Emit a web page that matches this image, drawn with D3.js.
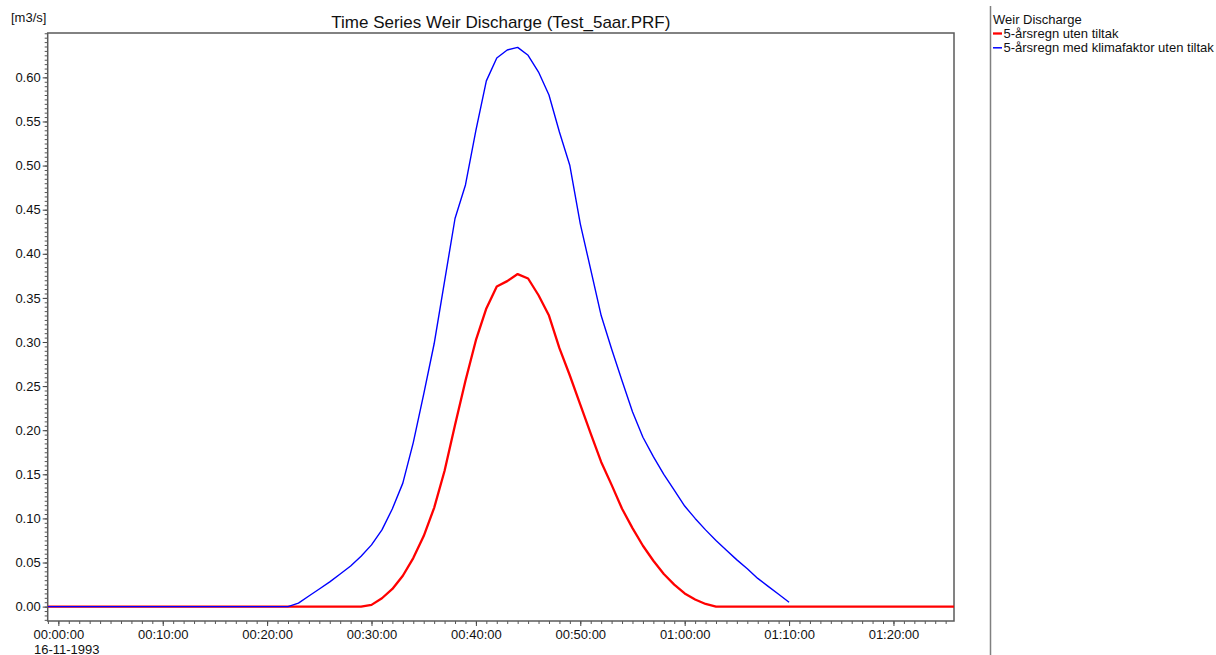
<!DOCTYPE html>
<html>
<head>
<meta charset="utf-8">
<script src="https://cdn.jsdelivr.net/npm/d3@7/dist/d3.min.js"></script>
<style>
  html, body { margin: 0; padding: 0; background: #fff; }
  svg { display: block; font-family: "Liberation Sans", Arial, sans-serif; }
</style>
</head>
<body>
<svg id="chart" width="1216" height="655"></svg>
<script>
// ---- data (minutes since 16-11-1993 00:00:00, discharge m3/s) ----
const chartTitle = "Time Series Weir Discharge (Test_5aar.PRF)";
const unitLabel = "[m3/s]";
const dateLabel = "16-11-1993";
const legendTitle = "Weir Discharge";
const seriesNames = ["5-årsregn uten tiltak", "5-årsregn med klimafaktor uten tiltak"];
const seriesColors = ["#ff0000", "#0000ff"];

const redTimes = [-1, 29, 30, 31, 32, 33, 34, 35, 36, 37, 38, 39, 40, 41, 42, 43, 44, 45, 46, 47, 48, 49,
  50, 51, 52, 53, 54, 55, 56, 57, 58, 59, 60, 61, 62, 63, 85.8];
const redValues = [0, 0, 0.002, 0.0095, 0.020, 0.035, 0.055, 0.080, 0.112, 0.154, 0.206, 0.256, 0.302,
  0.338, 0.363, 0.369, 0.377, 0.372, 0.353, 0.330, 0.293, 0.262, 0.229, 0.196, 0.164, 0.138, 0.111,
  0.089, 0.069, 0.052, 0.037, 0.025, 0.015, 0.008, 0.003, 0, 0];

const blueTimes = [-1, 22, 23, 24, 25, 26, 27, 28, 29, 30, 31, 32, 33, 34, 35, 36, 37, 38, 39, 40, 41,
  42, 43, 44, 45, 46, 47, 48, 49, 50, 51, 52, 53, 54, 55, 56, 57, 58, 59, 60, 61, 62, 63, 64, 65,
  66, 67, 68, 69, 70];
const blueValues = [0, 0, 0.004, 0.012, 0.020, 0.028, 0.037, 0.046, 0.057, 0.070, 0.087, 0.111, 0.140,
  0.186, 0.241, 0.298, 0.369, 0.440, 0.478, 0.540, 0.596, 0.622, 0.631, 0.634, 0.625, 0.606, 0.580,
  0.538, 0.500, 0.434, 0.382, 0.330, 0.292, 0.256, 0.221, 0.192, 0.170, 0.150, 0.132, 0.114, 0.100,
  0.087, 0.075, 0.064, 0.053, 0.043, 0.032, 0.023, 0.014, 0.005];

const yTicks = [0, 0.05, 0.10, 0.15, 0.20, 0.25, 0.30, 0.35, 0.40, 0.45, 0.50, 0.55, 0.60];
const xTicks = [0, 10, 20, 30, 40, 50, 60, 70, 80];
const xDomain = [-1.02, 85.8];
const yDomain = [-0.0163, 0.6503];

// ---- layout ----
const svg = d3.select("#chart");
const plot = { left: 47.7, right: 954, top: 33, bottom: 621 };

const x = d3.scaleLinear().domain(xDomain).range([plot.left, plot.right]);
const y = d3.scaleLinear().domain(yDomain).range([plot.bottom, plot.top]);

const fmtTime = m => {
  const h = Math.floor(m / 60), mm = m % 60;
  return String(h).padStart(2, "0") + ":" + String(mm).padStart(2, "0") + ":00";
};

// minor ticks
const yMinor = d3.range(-15, 651, 5).map(d => d / 1000).filter(d => d >= yDomain[0] && d <= yDomain[1]);
const xMinor = d3.range(-1, 86, 1).filter(d => d >= xDomain[0] && d <= xDomain[1]);

svg.append("g")
  .attr("transform", `translate(${plot.left},0)`)
  .call(d3.axisLeft(y).tickValues(yMinor).tickSize(3).tickFormat(""))
  .call(g => g.select(".domain").remove())
  .call(g => g.selectAll("line").attr("stroke", "#555"));

svg.append("g")
  .attr("transform", `translate(0,${plot.bottom})`)
  .call(d3.axisBottom(x).tickValues(xMinor).tickSize(3).tickFormat(""))
  .call(g => g.select(".domain").remove())
  .call(g => g.selectAll("line").attr("stroke", "#555"));

// major axes
const yAxis = svg.append("g")
  .attr("transform", `translate(${plot.left},0)`)
  .call(d3.axisLeft(y).tickValues(yTicks).tickSize(5).tickPadding(2).tickFormat(d3.format(".2f")))
  .call(g => g.select(".domain").remove());
yAxis.selectAll("line").attr("stroke", "#444");
yAxis.selectAll("text").attr("font-size", 13).attr("fill", "#111")
  .attr("font-family", "Liberation Sans, Arial, sans-serif");

const xAxis = svg.append("g")
  .attr("transform", `translate(0,${plot.bottom})`)
  .call(d3.axisBottom(x).tickValues(xTicks).tickSize(5).tickPadding(4).tickFormat(fmtTime))
  .call(g => g.select(".domain").remove());
xAxis.selectAll("line").attr("stroke", "#444");
xAxis.selectAll("text").attr("font-size", 13).attr("fill", "#111")
  .attr("font-family", "Liberation Sans, Arial, sans-serif");

// frame
svg.append("rect")
  .attr("x", plot.left).attr("y", plot.top)
  .attr("width", plot.right - plot.left).attr("height", plot.bottom - plot.top)
  .attr("fill", "none").attr("stroke", "#5a5a5a").attr("stroke-width", 1.5);

// clip
svg.append("clipPath").attr("id", "clip").append("rect")
  .attr("x", plot.left).attr("y", plot.top)
  .attr("width", plot.right - plot.left).attr("height", plot.bottom - plot.top);

const line = d3.line().x(d => x(d[0])).y(d => y(d[1]));
const redData = redTimes.map((t, i) => [t, redValues[i]]);
const blueData = blueTimes.map((t, i) => [t, blueValues[i]]);

const gLines = svg.append("g").attr("clip-path", "url(#clip)");
gLines.append("path").datum(redData).attr("d", line)
  .attr("fill", "none").attr("stroke", seriesColors[0]).attr("stroke-width", 2.3)
  .attr("stroke-linejoin", "round");
gLines.append("path").datum(blueData).attr("d", line)
  .attr("fill", "none").attr("stroke", seriesColors[1]).attr("stroke-width", 1.4)
  .attr("stroke-linejoin", "round");

// texts
svg.append("text").attr("x", (plot.left + plot.right) / 2).attr("y", 28)
  .attr("text-anchor", "middle").attr("font-size", 17).attr("fill", "#111").text(chartTitle);
svg.append("text").attr("x", 11).attr("y", 22)
  .attr("font-size", 13).attr("fill", "#111").text(unitLabel);
svg.append("text").attr("x", 34).attr("y", 653.5)
  .attr("font-size", 13).attr("fill", "#111").text(dateLabel);

// legend
svg.append("line").attr("x1", 990.5).attr("x2", 990.5).attr("y1", 6).attr("y2", 655)
  .attr("stroke", "#808080").attr("stroke-width", 1.5);
svg.append("text").attr("x", 993).attr("y", 23.5)
  .attr("font-size", 13).attr("fill", "#111").text(legendTitle);
const leg = svg.append("g");
seriesNames.forEach((name, i) => {
  const yy = 33.5 + i * 14.3;
  leg.append("line").attr("x1", 993).attr("x2", 1002).attr("y1", yy).attr("y2", yy)
    .attr("stroke", seriesColors[i]).attr("stroke-width", i === 0 ? 2.3 : 1.5);
  leg.append("text").attr("x", 1003.5).attr("y", yy + 4.5)
    .attr("font-size", 13).attr("fill", "#111").text(name);
});
</script>
</body>
</html>
